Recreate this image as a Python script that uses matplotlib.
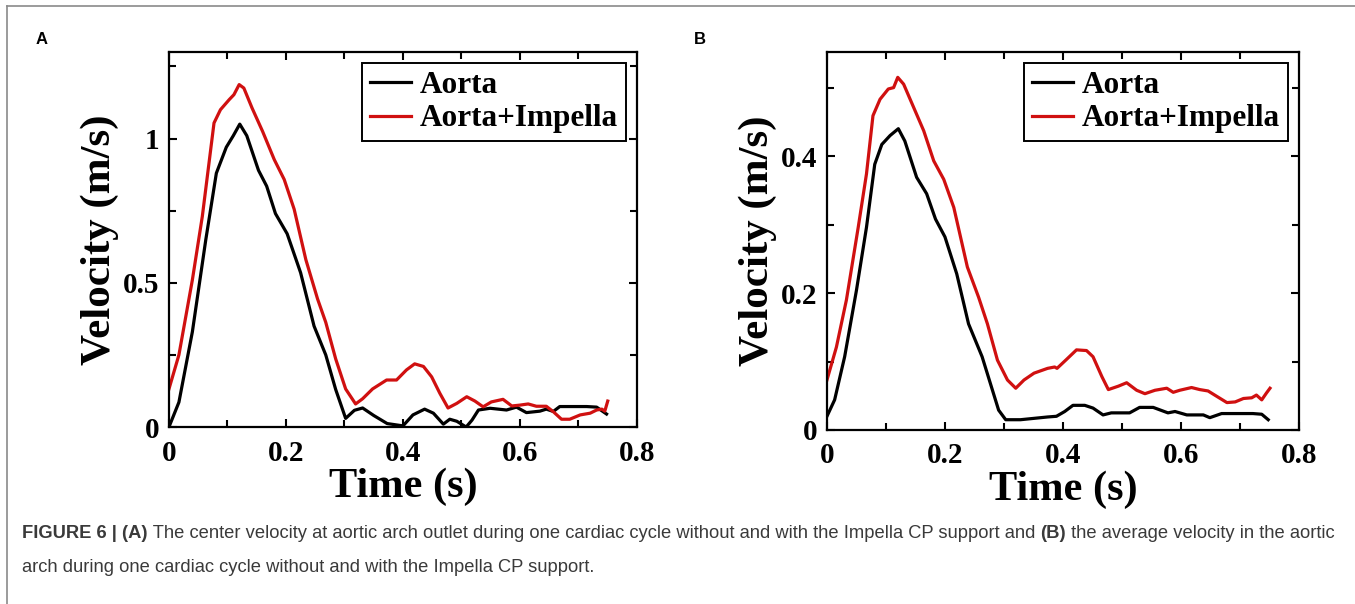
import numpy as np
import matplotlib
matplotlib.use("Agg")
import matplotlib.pyplot as plt
from matplotlib.lines import Line2D
from matplotlib.ticker import MultipleLocator

# ---- data ----
# panel A: center velocity at aortic arch outlet
t_a_aorta = [0.0, 0.017, 0.04, 0.063, 0.081, 0.098, 0.11, 0.121, 0.133, 0.153, 0.167, 0.182,
             0.202, 0.225, 0.248, 0.268, 0.285, 0.302, 0.317, 0.331, 0.35, 0.373, 0.40, 0.417,
             0.437, 0.452, 0.469, 0.48, 0.492, 0.508, 0.518, 0.529, 0.549, 0.577, 0.594, 0.611,
             0.634, 0.645, 0.657, 0.668, 0.714, 0.731, 0.748]
v_a_aorta = [0.0, 0.086, 0.33, 0.65, 0.88, 0.97, 1.01, 1.05, 1.01, 0.89, 0.835, 0.74,
             0.67, 0.535, 0.35, 0.25, 0.13, 0.03, 0.058, 0.066, 0.04, 0.012, 0.004, 0.042,
             0.062, 0.048, 0.01, 0.027, 0.02, 0.0, 0.024, 0.059, 0.065, 0.059, 0.069, 0.05,
             0.055, 0.062, 0.054, 0.071, 0.071, 0.069, 0.045]

t_a_imp = [0.0, 0.017, 0.04, 0.057, 0.077, 0.088, 0.103, 0.111, 0.12, 0.128, 0.142, 0.16,
           0.18, 0.197, 0.214, 0.234, 0.254, 0.268, 0.285, 0.302, 0.319, 0.331, 0.348, 0.372,
           0.389, 0.406, 0.42, 0.435, 0.449, 0.463, 0.477, 0.492, 0.509, 0.523, 0.537, 0.551,
           0.571, 0.586, 0.60, 0.614, 0.628, 0.645, 0.657, 0.671, 0.685, 0.703, 0.72, 0.731,
           0.74, 0.745, 0.75]
v_a_imp = [0.132, 0.25, 0.51, 0.73, 1.054, 1.10, 1.135, 1.152, 1.187, 1.175, 1.106, 1.025,
           0.927, 0.858, 0.755, 0.58, 0.444, 0.363, 0.236, 0.132, 0.08, 0.098, 0.132, 0.163,
           0.163, 0.198, 0.219, 0.21, 0.174, 0.117, 0.066, 0.082, 0.105, 0.09, 0.07, 0.087,
           0.096, 0.073, 0.076, 0.08, 0.072, 0.072, 0.053, 0.027, 0.027, 0.042, 0.048, 0.059,
           0.062, 0.055, 0.09]

# panel B: average velocity in the aortic arch
t_b_aorta = [0.0, 0.013, 0.03, 0.05, 0.067, 0.081, 0.093, 0.107, 0.121, 0.132, 0.152, 0.169,
             0.184, 0.2, 0.22, 0.24, 0.263, 0.277, 0.291, 0.303, 0.328, 0.351, 0.374, 0.389,
             0.403, 0.417, 0.437, 0.451, 0.468, 0.482, 0.513, 0.53, 0.553, 0.578, 0.59, 0.61,
             0.638, 0.649, 0.669, 0.722, 0.737, 0.748]
v_b_aorta = [0.02, 0.044, 0.107, 0.204, 0.296, 0.388, 0.417, 0.43, 0.44, 0.422, 0.369, 0.345,
             0.308, 0.282, 0.228, 0.155, 0.107, 0.068, 0.029, 0.015, 0.015, 0.017, 0.019, 0.02,
             0.027, 0.036, 0.036, 0.032, 0.022, 0.025, 0.025, 0.033, 0.033, 0.025, 0.027, 0.022,
             0.022, 0.018, 0.024, 0.024, 0.023, 0.015]

t_b_imp = [0.0, 0.016, 0.033, 0.053, 0.067, 0.078, 0.09, 0.104, 0.113, 0.12, 0.13, 0.147,
           0.164, 0.181, 0.198, 0.215, 0.238, 0.257, 0.272, 0.289, 0.306, 0.32, 0.334, 0.351,
           0.374, 0.386, 0.39, 0.406, 0.423, 0.44, 0.451, 0.466, 0.477, 0.494, 0.508, 0.525,
           0.539, 0.556, 0.576, 0.587, 0.598, 0.618, 0.632, 0.646, 0.661, 0.678, 0.692, 0.706,
           0.72, 0.728, 0.737, 0.745, 0.751]
v_b_imp = [0.073, 0.121, 0.19, 0.296, 0.374, 0.459, 0.483, 0.498, 0.5, 0.515, 0.505, 0.471,
           0.437, 0.393, 0.366, 0.325, 0.238, 0.194, 0.155, 0.102, 0.073, 0.061, 0.073, 0.083,
           0.09, 0.092, 0.09, 0.103, 0.117, 0.116, 0.107, 0.078, 0.059, 0.064, 0.069, 0.058,
           0.053, 0.058, 0.061, 0.055, 0.058, 0.062, 0.059, 0.057, 0.049, 0.04, 0.041, 0.046,
           0.047, 0.051, 0.044, 0.054, 0.061]

labels = ["Aorta", "Aorta+Impella"]
colors = ["black", "#d01010"]

plt.rcParams["font.family"] = ["Liberation Serif", "DejaVu Serif"]
plt.rcParams["font.weight"] = "bold"

fig = plt.figure(figsize=(13.55, 6.04), dpi=100)

ax_a = fig.add_axes([0.1247, 0.2930, 0.3454, 0.6209])
ax_b = fig.add_axes([0.6103, 0.2881, 0.3483, 0.6258])


def style(ax, ymax, ymajor, yminor):
    ax.set_xlim(0, 0.8)
    ax.set_ylim(0, ymax)
    ax.xaxis.set_major_locator(MultipleLocator(0.2))
    ax.xaxis.set_minor_locator(MultipleLocator(0.1))
    ax.yaxis.set_major_locator(MultipleLocator(ymajor))
    ax.yaxis.set_minor_locator(MultipleLocator(yminor))
    ax.xaxis.set_major_formatter(lambda v, pos: "%g" % v)
    ax.yaxis.set_major_formatter(lambda v, pos: "%g" % v)
    ax.tick_params(which="both", direction="in", top=True, right=True, width=1.5)
    ax.tick_params(which="major", length=6)
    ax.tick_params(which="minor", length=5)
    ax.tick_params(axis="x", pad=9, labelsize=21)
    ax.tick_params(axis="y", pad=7, labelsize=21)
    for sp in ax.spines.values():
        sp.set_linewidth(1.6)
    ax.set_xlabel("Time (s)", fontsize=30.5, fontweight="bold", labelpad=1)
    ax.set_ylabel("Velocity (m/s)", fontsize=31, fontweight="bold", labelpad=3)
    leg = ax.legend(loc="upper right", fontsize=22.5, handlelength=1.3, handletextpad=0.3,
                    borderaxespad=0.35, fancybox=False, framealpha=1, borderpad=0.25,
                    labelspacing=0.15)
    leg.get_frame().set_edgecolor("black")
    leg.get_frame().set_linewidth(1.4)


ax_a.plot(t_a_aorta, v_a_aorta, color=colors[0], lw=2.3, label=labels[0])
ax_a.plot(t_a_imp, v_a_imp, color=colors[1], lw=2.3, label=labels[1])
style(ax_a, 1.3, 0.5, 0.25)

ax_b.plot(t_b_aorta, v_b_aorta, color=colors[0], lw=2.3, label=labels[0])
ax_b.plot(t_b_imp, v_b_imp, color=colors[1], lw=2.3, label=labels[1])
style(ax_b, 0.552, 0.2, 0.1)

# panel letters
fig.text(36 / 1355, 1 - 40 / 604, "A", family="Liberation Sans", fontsize=12,
         fontweight="bold", va="center", ha="left")
fig.text(694 / 1355, 1 - 40 / 604, "B", family="Liberation Sans", fontsize=12,
         fontweight="bold", va="center", ha="left")

# page frame (top and left edges)
fig.add_artist(Line2D([7 / 1355, 1], [1 - 6 / 604, 1 - 6 / 604], transform=fig.transFigure,
                      color="#8a8a8a", lw=1.2))
fig.add_artist(Line2D([7 / 1355, 7 / 1355], [0, 1 - 6 / 604], transform=fig.transFigure,
                      color="#8a8a8a", lw=1.2))

# caption with bold runs
cap_color = "#3a3a3a"
line1 = [("FIGURE 6 | (A)", "bold"),
         (" The center velocity at aortic arch outlet during one cardiac cycle without and "
          "with the Impella CP support and ", "normal"),
         ("(B)", "bold"),
         (" the average velocity in the aortic", "normal")]
line2 = [("arch during one cardiac cycle without and with the Impella CP support.", "normal")]

fig.canvas.draw()
renderer = fig.canvas.get_renderer()
for runs, ypix in [(line1, 534), (line2, 567)]:
    x = 22 / 1355
    for txt, wt in runs:
        t = fig.text(x, 1 - ypix / 604, txt, family="Liberation Sans", fontsize=13.2,
                     fontweight=wt, color=cap_color, va="center", ha="left")
        bb = t.get_window_extent(renderer=renderer)
        x += bb.width / fig.bbox.width

fig.savefig("out.png", dpi=100)
